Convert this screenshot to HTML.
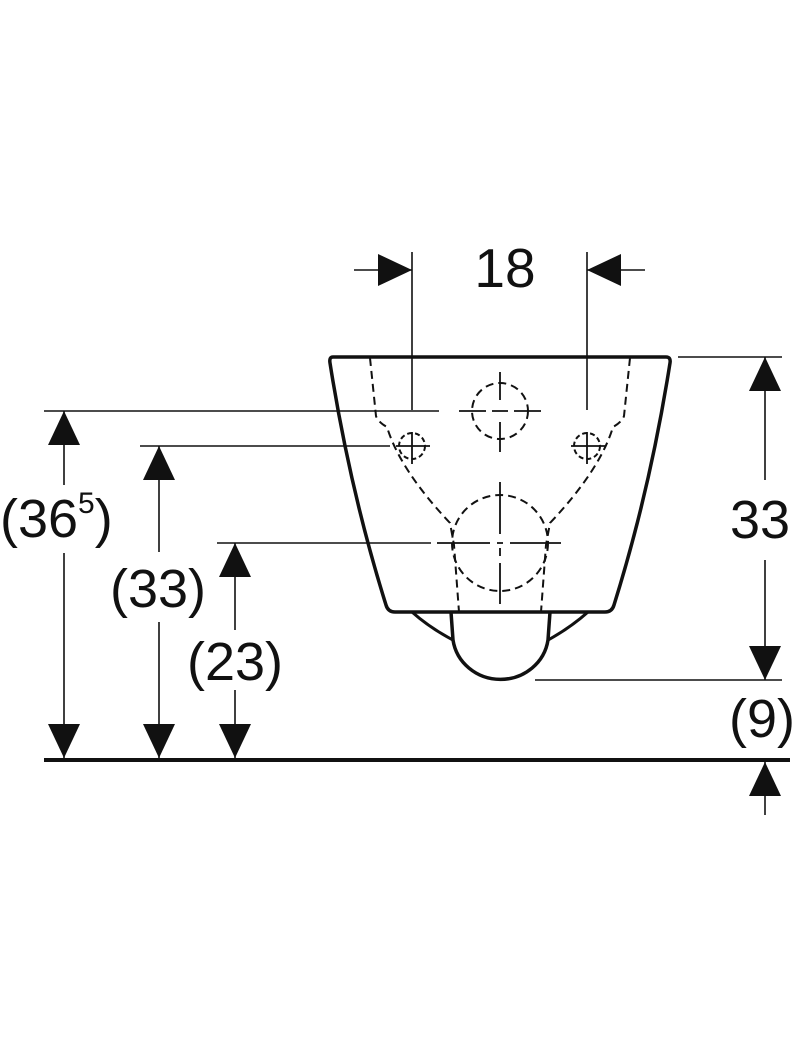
<!DOCTYPE html>
<html><head><style>
html,body{margin:0;padding:0;background:#fff;}
svg{display:block;}
text{font-family:"Liberation Sans",Arial,sans-serif;fill:#111;}
</style></head><body>
<svg width="800" height="1058" viewBox="0 0 800 1058" xmlns="http://www.w3.org/2000/svg">
<g stroke="#111" fill="none">
<path d="M333 357 L666 357 Q671 357 670 363 Q650 490 614 605 Q612 612 605 612 L395 612 Q388 612 386 605 Q350 490 330 363 Q329 357 333 357 Z" stroke-width="3.5"/>
<path d="M451 612 L453 640 A48 46 0 0 0 548 640 L550 612" stroke-width="3.5"/>
<path d="M412 612 Q430 628 453 640 M588 612 Q570 628 548 640" stroke-width="3"/>
<g stroke-width="2" stroke-dasharray="8,5">
<path d="M370 358 L376 416 Q378 422 387 427 Q400 470 450 523 L454 545 L459 612"/>
<path d="M630 358 L624 416 Q622 422 613 427 Q600 470 550 523 L546 545 L541 612"/>
<circle cx="500" cy="411" r="28"/>
<circle cx="500" cy="543" r="48"/>
<circle cx="412" cy="446" r="13" stroke-dasharray="5,3"/>
<circle cx="587" cy="446" r="13" stroke-dasharray="5,3"/>
</g>
<g stroke-width="1.8">
<path d="M459 411 H486 M492 411 H508 M514 411 H541 M500 372 V400 M500 422 V452"/>
<path d="M396 446 H430 M412 432 V464 M571 446 H605 M587 432 V464"/>
<path d="M437 543 H490 M497 543 H503 M510 543 H561 M500 482 V534 M500 548 V556 M500 563 V604"/>
</g>
<g stroke-width="1.6">
<path d="M44 411 H439"/>
<path d="M140 446 H390"/>
<path d="M217 543 H431"/>
<path d="M412 252 V410 M587 252 V410"/>
<path d="M354 270 H412 M587 270 H645"/>
<path d="M678 357 H782"/>
<path d="M535 680 H782"/>
<path d="M64 411 V485 M64 553 V758"/>
<path d="M159 446 V552 M159 622 V758"/>
<path d="M235 543 V630 M235 690 V758"/>
<path d="M765 357 V480 M765 560 V680"/>
<path d="M765 760 V815"/>
</g>
<path d="M44 760 H790" stroke-width="4"/>
</g>
<g fill="#111">
<polygon points="412,270 378,254 378,286"/>
<polygon points="587,270 621,254 621,286"/>
<polygon points="64,411 48,445 80,445"/>
<polygon points="64,758 48,724 80,724"/>
<polygon points="159,446 143,480 175,480"/>
<polygon points="159,758 143,724 175,724"/>
<polygon points="235,543 219,577 251,577"/>
<polygon points="235,758 219,724 251,724"/>
<polygon points="765,357 749,391 781,391"/>
<polygon points="765,680 749,646 781,646"/>
<polygon points="765,762 749,796 781,796"/>
</g>
<text x="505" y="287" font-size="55" text-anchor="middle">18</text>
<text x="0" y="537" font-size="54">(36<tspan font-size="30" dy="-24">5</tspan><tspan dy="24">)</tspan></text>
<text x="158" y="607" font-size="54" text-anchor="middle">(33)</text>
<text x="235" y="680" font-size="54" text-anchor="middle">(23)</text>
<text x="760" y="538" font-size="54" text-anchor="middle">33</text>
<text x="762" y="737" font-size="54" text-anchor="middle">(9)</text>
</svg>
</body></html>
